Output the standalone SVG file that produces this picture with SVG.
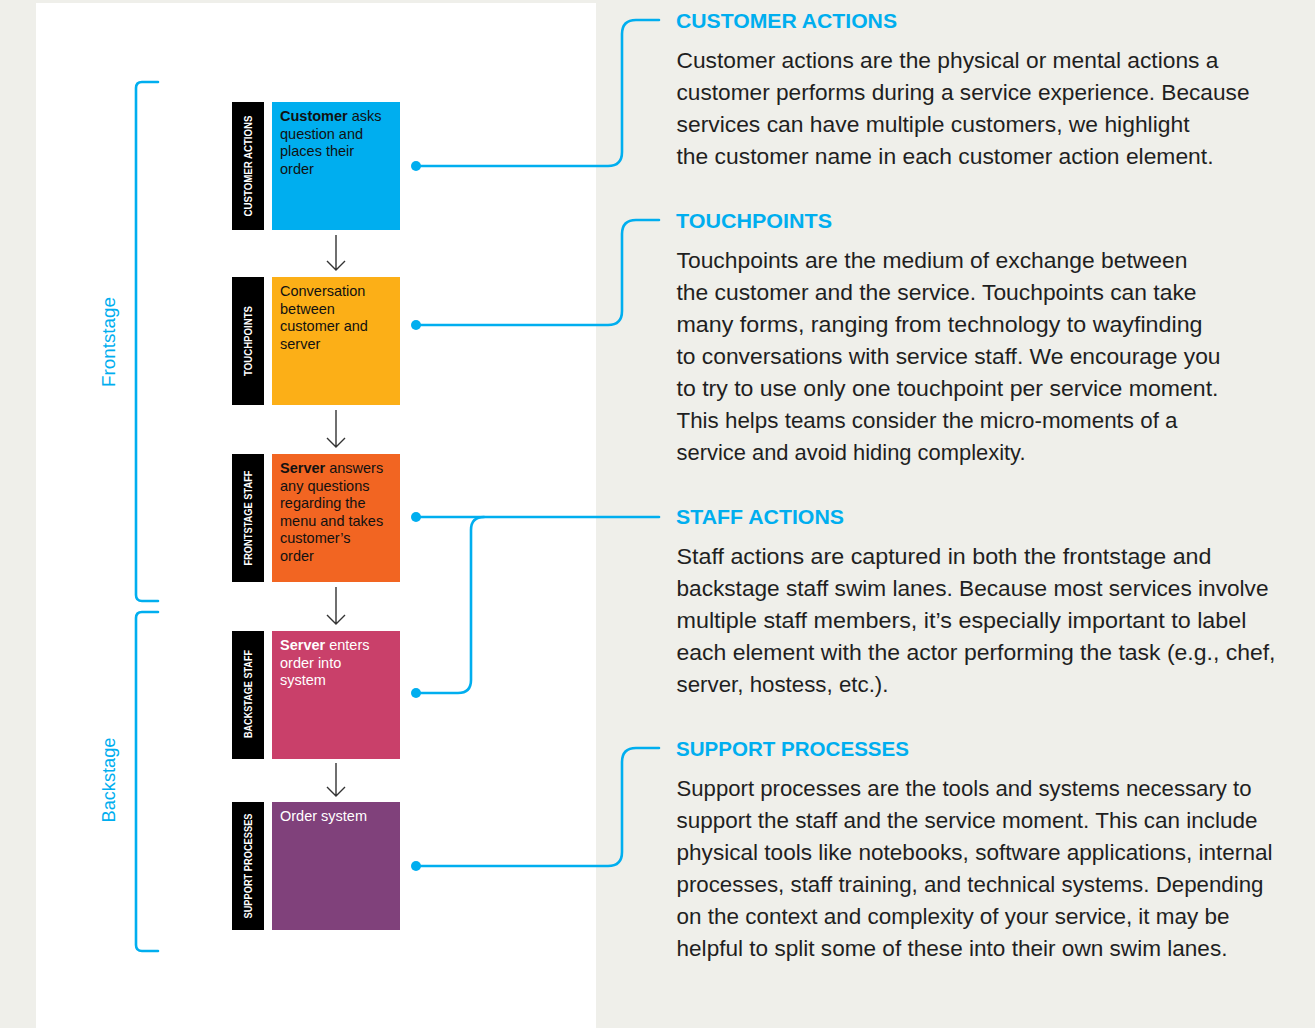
<svg xmlns="http://www.w3.org/2000/svg" width="1315" height="1028" viewBox="0 0 1315 1028">
<style>
.body{font-family:"Liberation Sans",Arial,sans-serif;font-size:21.5px;fill:#1f1f1f}
.head{font-family:"Liberation Sans",Arial,sans-serif;font-size:20px;font-weight:bold;fill:#00AEEF}
.box{font-family:"Liberation Sans",Arial,sans-serif;font-size:14.5px}
.lab{font-family:"Liberation Sans",Arial,sans-serif;font-size:10px;font-weight:bold;fill:#fff}
.stage{font-family:"Liberation Sans",Arial,sans-serif;font-size:18px;fill:#00AEEF}
.conn{fill:none;stroke:#00AEEF;stroke-width:2.6;stroke-linecap:round;stroke-linejoin:round}
.dot{fill:#00AEEF}
.arr{fill:none;stroke:#333;stroke-width:1.4}
</style>
<rect x="0" y="0" width="1315" height="1028" fill="#EFEFEA"/>
<rect x="36" y="3" width="560" height="1025" fill="#FFFFFF"/>

<g id="brackets">
<path class="conn" d="M158,82 H142 Q136,82 136,88 V595 Q136,601 142,601 H158"/>
<path class="conn" d="M158,612 H142 Q136,612 136,618 V945 Q136,951 142,951 H158"/>
<text class="stage" transform="translate(115,342) rotate(-90)" text-anchor="middle" textLength="90" lengthAdjust="spacingAndGlyphs">Frontstage</text>
<text class="stage" transform="translate(115,780) rotate(-90)" text-anchor="middle" textLength="85" lengthAdjust="spacingAndGlyphs">Backstage</text>
</g>

<g id="node-customer-actions">
<rect x="232" y="102" width="32" height="128" fill="#000"/>
<text class="lab" transform="translate(252,166) rotate(-90)" text-anchor="middle" textLength="101" lengthAdjust="spacingAndGlyphs">CUSTOMER ACTIONS</text>
<rect x="272" y="102" width="128" height="128" fill="#00AEEF"/>
<text class="box" x="280" y="121" fill="#111"><tspan font-weight="bold">Customer</tspan> asks</text>
<text class="box" x="280" y="138.5" fill="#111">question and</text>
<text class="box" x="280" y="156" fill="#111">places their</text>
<text class="box" x="280" y="173.5" fill="#111">order</text>
</g>

<g id="node-touchpoints">
<rect x="232" y="277" width="32" height="128" fill="#000"/>
<text class="lab" transform="translate(252,341) rotate(-90)" text-anchor="middle" textLength="70" lengthAdjust="spacingAndGlyphs">TOUCHPOINTS</text>
<rect x="272" y="277" width="128" height="128" fill="#FCAF17"/>
<text class="box" x="280" y="296" fill="#111">Conversation</text>
<text class="box" x="280" y="313.5" fill="#111">between</text>
<text class="box" x="280" y="331" fill="#111">customer and</text>
<text class="box" x="280" y="348.5" fill="#111">server</text>
</g>

<g id="node-frontstage-staff">
<rect x="232" y="454" width="32" height="128" fill="#000"/>
<text class="lab" transform="translate(252,518) rotate(-90)" text-anchor="middle" textLength="95" lengthAdjust="spacingAndGlyphs">FRONTSTAGE STAFF</text>
<rect x="272" y="454" width="128" height="128" fill="#F26522"/>
<text class="box" x="280" y="473" fill="#111"><tspan font-weight="bold">Server</tspan> answers</text>
<text class="box" x="280" y="490.5" fill="#111">any questions</text>
<text class="box" x="280" y="508" fill="#111">regarding the</text>
<text class="box" x="280" y="525.5" fill="#111">menu and takes</text>
<text class="box" x="280" y="543" fill="#111">customer’s</text>
<text class="box" x="280" y="560.5" fill="#111">order</text>
</g>

<g id="node-backstage-staff">
<rect x="232" y="631" width="32" height="128" fill="#000"/>
<text class="lab" transform="translate(252,694) rotate(-90)" text-anchor="middle" textLength="88" lengthAdjust="spacingAndGlyphs">BACKSTAGE STAFF</text>
<rect x="272" y="631" width="128" height="128" fill="#C9406A"/>
<text class="box" x="280" y="650" fill="#fff"><tspan font-weight="bold">Server</tspan> enters</text>
<text class="box" x="280" y="667.5" fill="#fff">order into</text>
<text class="box" x="280" y="685" fill="#fff">system</text>
</g>

<g id="node-support-processes">
<rect x="232" y="802" width="32" height="128" fill="#000"/>
<text class="lab" transform="translate(252,866) rotate(-90)" text-anchor="middle" textLength="105" lengthAdjust="spacingAndGlyphs">SUPPORT PROCESSES</text>
<rect x="272" y="802" width="128" height="128" fill="#80417B"/>
<text class="box" x="280" y="821" fill="#fff">Order system</text>
</g>

<g id="connectors">
<path class="arr" d="M336,235 V270 M327,261 L336,270 L345,261"/>
<path class="arr" d="M336,410 V447 M327,438 L336,447 L345,438"/>
<path class="arr" d="M336,587 V624 M327,615 L336,624 L345,615"/>
<path class="arr" d="M336,763 V796 M327,787 L336,796 L345,787"/>

<path class="conn" d="M416,166 H608 Q622,166 622,152 V34 Q622,20 636,20 H659"/>
<path class="conn" d="M416,325 H608 Q622,325 622,311 V234 Q622,220 636,220 H659"/>
<path class="conn" d="M416,517 H659"/>
<path class="conn" d="M416,693 H458 Q471,693 471,680 V530 Q471,517 484,517"/>
<path class="conn" d="M416,866 H608 Q622,866 622,852 V762 Q622,748 636,748 H659"/>
<circle class="dot" cx="416" cy="166" r="5"/>
<circle class="dot" cx="416" cy="325" r="5"/>
<circle class="dot" cx="416" cy="517" r="5"/>
<circle class="dot" cx="416" cy="693" r="5"/>
<circle class="dot" cx="416" cy="866" r="5"/>
</g>

<g id="desc-customer-actions">
<text class="head" x="676" y="28" textLength="221" lengthAdjust="spacingAndGlyphs">CUSTOMER ACTIONS</text>
<text class="body" x="676.5" y="68" textLength="542" lengthAdjust="spacingAndGlyphs">Customer actions are the physical or mental actions a</text>
<text class="body" x="676.5" y="100" textLength="573" lengthAdjust="spacingAndGlyphs">customer performs during a service experience. Because</text>
<text class="body" x="676.5" y="132" textLength="513" lengthAdjust="spacingAndGlyphs">services can have multiple customers, we highlight</text>
<text class="body" x="676.5" y="164" textLength="537" lengthAdjust="spacingAndGlyphs">the customer name in each customer action element.</text>
</g>

<g id="desc-touchpoints">
<text class="head" x="676" y="228" textLength="156" lengthAdjust="spacingAndGlyphs">TOUCHPOINTS</text>
<text class="body" x="676.5" y="268" textLength="511" lengthAdjust="spacingAndGlyphs">Touchpoints are the medium of exchange between</text>
<text class="body" x="676.5" y="300" textLength="520" lengthAdjust="spacingAndGlyphs">the customer and the service. Touchpoints can take</text>
<text class="body" x="676.5" y="332" textLength="526" lengthAdjust="spacingAndGlyphs">many forms, ranging from technology to wayfinding</text>
<text class="body" x="676.5" y="364" textLength="544" lengthAdjust="spacingAndGlyphs">to conversations with service staff. We encourage you</text>
<text class="body" x="676.5" y="396" textLength="542" lengthAdjust="spacingAndGlyphs">to try to use only one touchpoint per service moment.</text>
<text class="body" x="676.5" y="428" textLength="501" lengthAdjust="spacingAndGlyphs">This helps teams consider the micro-moments of a</text>
<text class="body" x="676.5" y="460" textLength="349" lengthAdjust="spacingAndGlyphs">service and avoid hiding complexity.</text>
</g>

<g id="desc-staff-actions">
<text class="head" x="676" y="524" textLength="168" lengthAdjust="spacingAndGlyphs">STAFF ACTIONS</text>
<text class="body" x="676.5" y="564" textLength="535" lengthAdjust="spacingAndGlyphs">Staff actions are captured in both the frontstage and</text>
<text class="body" x="676.5" y="596" textLength="592" lengthAdjust="spacingAndGlyphs">backstage staff swim lanes. Because most services involve</text>
<text class="body" x="676.5" y="628" textLength="570" lengthAdjust="spacingAndGlyphs">multiple staff members, it’s especially important to label</text>
<text class="body" x="676.5" y="660" textLength="599" lengthAdjust="spacingAndGlyphs">each element with the actor performing the task (e.g., chef,</text>
<text class="body" x="676.5" y="692" textLength="212" lengthAdjust="spacingAndGlyphs">server, hostess, etc.).</text>
</g>

<g id="desc-support-processes">
<text class="head" x="676" y="756" textLength="233" lengthAdjust="spacingAndGlyphs">SUPPORT PROCESSES</text>
<text class="body" x="676.5" y="796" textLength="575" lengthAdjust="spacingAndGlyphs">Support processes are the tools and systems necessary to</text>
<text class="body" x="676.5" y="828" textLength="581" lengthAdjust="spacingAndGlyphs">support the staff and the service moment. This can include</text>
<text class="body" x="676.5" y="860" textLength="596" lengthAdjust="spacingAndGlyphs">physical tools like notebooks, software applications, internal</text>
<text class="body" x="676.5" y="892" textLength="587" lengthAdjust="spacingAndGlyphs">processes, staff training, and technical systems. Depending</text>
<text class="body" x="676.5" y="924" textLength="553" lengthAdjust="spacingAndGlyphs">on the context and complexity of your service, it may be</text>
<text class="body" x="676.5" y="956" textLength="551" lengthAdjust="spacingAndGlyphs">helpful to split some of these into their own swim lanes.</text>
</g>
</svg>
